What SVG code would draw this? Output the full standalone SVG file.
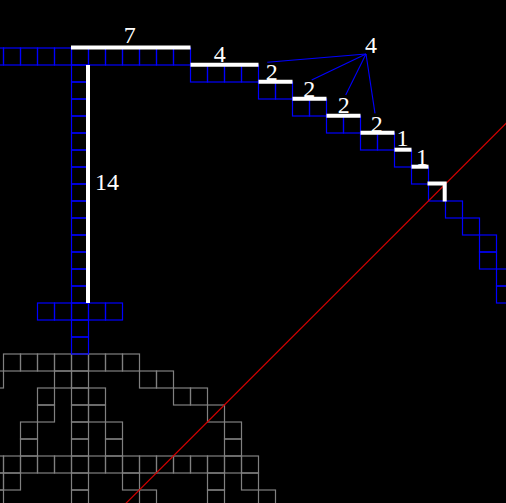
<svg xmlns="http://www.w3.org/2000/svg" width="506" height="503" viewBox="0 0 506 503">
<style>
.b{fill:none;stroke:#0000ff;stroke-width:1.2}
.g{fill:none;stroke:#808080;stroke-width:1.2}
.w{fill:none;stroke:#ffffff;stroke-width:4}
.t{fill:#ffffff;font-family:'Liberation Serif','Times New Roman',serif;font-size:24px;text-anchor:middle}
.c{fill:none;stroke:#0000ff;stroke-width:1.1}
</style>
<defs><rect id="c" width="17" height="17"/></defs>
<rect width="506" height="503" fill="#000000"/>
<g id="gray-grid" class="g">
<use href="#c" x="3.5" y="354"/><use href="#c" x="20.5" y="354"/><use href="#c" x="37.5" y="354"/><use href="#c" x="54.5" y="354"/><use href="#c" x="71.5" y="354"/><use href="#c" x="88.5" y="354"/><use href="#c" x="105.5" y="354"/><use href="#c" x="122.5" y="354"/>
<use href="#c" x="-13.5" y="371"/><use href="#c" x="54.5" y="371"/><use href="#c" x="71.5" y="371"/><use href="#c" x="139.5" y="371"/><use href="#c" x="156.5" y="371"/>
<use href="#c" x="37.5" y="388"/><use href="#c" x="71.5" y="388"/><use href="#c" x="88.5" y="388"/><use href="#c" x="173.5" y="388"/><use href="#c" x="190.5" y="388"/>
<use href="#c" x="37.5" y="405"/><use href="#c" x="71.5" y="405"/><use href="#c" x="88.5" y="405"/><use href="#c" x="207.5" y="405"/>
<use href="#c" x="20.5" y="422"/><use href="#c" x="71.5" y="422"/><use href="#c" x="105.5" y="422"/><use href="#c" x="224.5" y="422"/>
<use href="#c" x="20.5" y="439"/><use href="#c" x="71.5" y="439"/><use href="#c" x="105.5" y="439"/><use href="#c" x="224.5" y="439"/>
<use href="#c" x="-13.5" y="456"/><use href="#c" x="3.5" y="456"/><use href="#c" x="20.5" y="456"/><use href="#c" x="37.5" y="456"/><use href="#c" x="54.5" y="456"/><use href="#c" x="71.5" y="456"/><use href="#c" x="88.5" y="456"/><use href="#c" x="105.5" y="456"/><use href="#c" x="122.5" y="456"/><use href="#c" x="139.5" y="456"/><use href="#c" x="156.5" y="456"/><use href="#c" x="173.5" y="456"/><use href="#c" x="190.5" y="456"/><use href="#c" x="207.5" y="456"/><use href="#c" x="224.5" y="456"/><use href="#c" x="241.5" y="456"/>
<use href="#c" x="-13.5" y="473"/><use href="#c" x="3.5" y="473"/><use href="#c" x="71.5" y="473"/><use href="#c" x="122.5" y="473"/><use href="#c" x="207.5" y="473"/><use href="#c" x="241.5" y="473"/>
<use href="#c" x="-13.5" y="490"/><use href="#c" x="71.5" y="490"/><use href="#c" x="139.5" y="490"/><use href="#c" x="207.5" y="490"/><use href="#c" x="258.5" y="490"/>
</g>
<g id="blue-grid" class="b">
<use href="#c" x="-13.5" y="48"/><use href="#c" x="3.5" y="48"/><use href="#c" x="20.5" y="48"/><use href="#c" x="37.5" y="48"/><use href="#c" x="54.5" y="48"/><use href="#c" x="71.5" y="48"/><use href="#c" x="88.5" y="48"/><use href="#c" x="105.5" y="48"/><use href="#c" x="122.5" y="48"/><use href="#c" x="139.5" y="48"/><use href="#c" x="156.5" y="48"/><use href="#c" x="173.5" y="48"/>
<use href="#c" x="71.5" y="65"/><use href="#c" x="71.5" y="82"/><use href="#c" x="71.5" y="99"/><use href="#c" x="71.5" y="116"/><use href="#c" x="71.5" y="133"/><use href="#c" x="71.5" y="150"/><use href="#c" x="71.5" y="167"/><use href="#c" x="71.5" y="184"/><use href="#c" x="71.5" y="201"/><use href="#c" x="71.5" y="218"/><use href="#c" x="71.5" y="235"/><use href="#c" x="71.5" y="252"/><use href="#c" x="71.5" y="269"/><use href="#c" x="71.5" y="286"/><use href="#c" x="71.5" y="303"/><use href="#c" x="71.5" y="320"/><use href="#c" x="71.5" y="337"/>
<use href="#c" x="37.5" y="303"/><use href="#c" x="54.5" y="303"/><use href="#c" x="88.5" y="303"/><use href="#c" x="105.5" y="303"/>
<use href="#c" x="190.5" y="65"/><use href="#c" x="207.5" y="65"/><use href="#c" x="224.5" y="65"/><use href="#c" x="241.5" y="65"/>
<use href="#c" x="258.5" y="82"/><use href="#c" x="275.5" y="82"/>
<use href="#c" x="292.5" y="99"/><use href="#c" x="309.5" y="99"/>
<use href="#c" x="326.5" y="116"/><use href="#c" x="343.5" y="116"/>
<use href="#c" x="360.5" y="133"/><use href="#c" x="377.5" y="133"/>
<use href="#c" x="394.5" y="150"/>
<use href="#c" x="411.5" y="167"/>
<use href="#c" x="428.5" y="184"/>
<use href="#c" x="445.5" y="201"/>
<use href="#c" x="462.5" y="218"/>
<use href="#c" x="479.5" y="235"/><use href="#c" x="479.5" y="252"/>
<use href="#c" x="496.5" y="269"/><use href="#c" x="496.5" y="286"/>
</g>
<g id="connectors" class="c">
<line x1="366" y1="54" x2="267.3" y2="62.3"/>
<line x1="366" y1="54" x2="311.7" y2="80"/>
<line x1="366" y1="54" x2="345.7" y2="95"/>
<line x1="366" y1="54" x2="375" y2="113.3"/>
</g>
<g id="diagonal">
<line x1="120" y1="509.3" x2="512" y2="117.3" stroke="#d40000" stroke-width="1.2"/>
</g>
<g font-family="Liberation Serif, Times New Roman, serif">
<g id="seg-7"><line class="w" x1="71" y1="47.5" x2="190.5" y2="47.5"/><text class="t" x="129.7" y="43.3" font-family="Liberation Serif, serif">7</text></g>
<g id="seg-14"><line class="w" x1="88" y1="65" x2="88" y2="303"/><text class="t" x="107" y="190" font-family="Liberation Serif, serif">14</text></g>
<g id="seg-4"><line class="w" x1="190.5" y1="64.7" x2="258.5" y2="64.7"/><text class="t" x="219.7" y="62.3" font-family="Liberation Serif, serif">4</text></g>
<g id="seg-2a"><line class="w" x1="258.5" y1="81.7" x2="292.5" y2="81.7"/><text class="t" x="271.7" y="80" font-family="Liberation Serif, serif">2</text></g>
<g id="seg-2b"><line class="w" x1="292.5" y1="98.7" x2="326.5" y2="98.7"/><text class="t" x="309.3" y="97" font-family="Liberation Serif, serif">2</text></g>
<g id="seg-2c"><line class="w" x1="326.5" y1="115.7" x2="360.5" y2="115.7"/><text class="t" x="343.7" y="113" font-family="Liberation Serif, serif">2</text></g>
<g id="seg-2d"><line class="w" x1="360.5" y1="132.7" x2="394.5" y2="132.7"/><text class="t" x="376.7" y="131.5" font-family="Liberation Serif, serif">2</text></g>
<g id="seg-1a"><line class="w" x1="394.5" y1="149.7" x2="411.5" y2="149.7"/><text class="t" x="402.5" y="146" font-family="Liberation Serif, serif">1</text></g>
<g id="seg-1b"><line class="w" x1="411.5" y1="166.7" x2="428.5" y2="166.7"/><text class="t" x="422" y="165" font-family="Liberation Serif, serif">1</text></g>
<g id="seg-corner"><polyline class="w" points="427.5,183.5 444.7,183.5 444.7,201.5"/></g>
<g id="label-4"><text class="t" x="371" y="53.3" font-family="Liberation Serif, serif">4</text></g>
</g>
</svg>
